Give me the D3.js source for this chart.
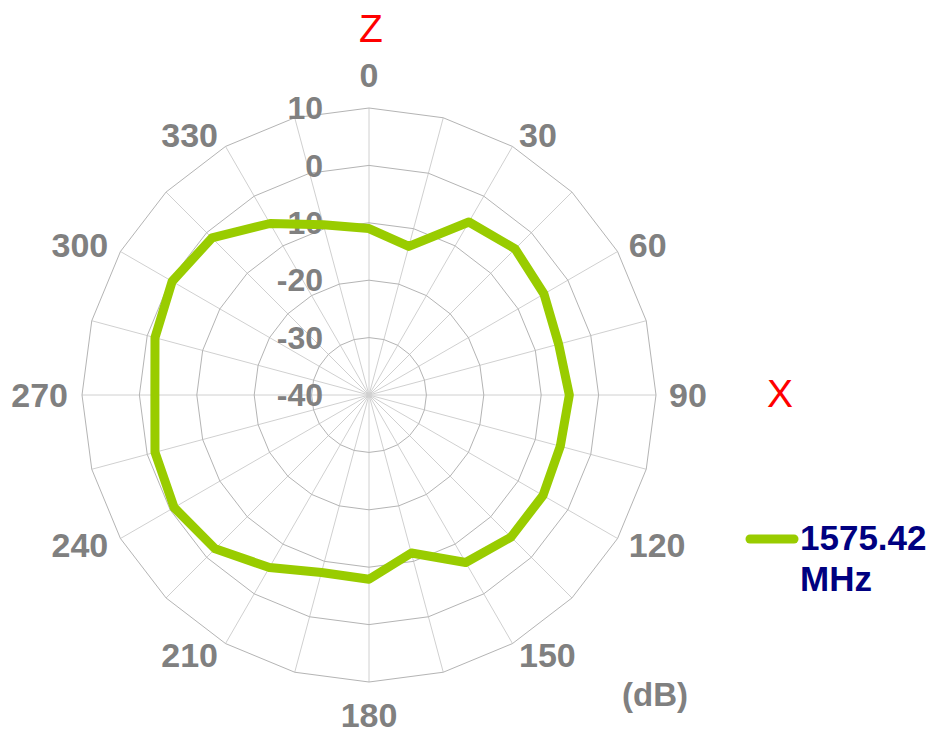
<!DOCTYPE html>
<html>
<head>
<meta charset="utf-8">
<script src="https://cdn.jsdelivr.net/npm/d3@7"></script>
<style>
  body { margin: 0; background: #fff; }
  svg { display: block; }
  text { font-family: "Liberation Sans", Arial, sans-serif; }
</style>
</head>
<body>
<svg id="chart"></svg>
<script>
// angle categories (deg) and measured gain (dB)
const angles = [0, 15, 30, 45, 60, 75, 90, 105, 120, 135, 150, 165,
                180, 195, 210, 225, 240, 255, 270, 285, 300, 315, 330, 345];
const gain = [-11.0, -13.2, -5.2, -4.0, -4.8, -5.8, -5.1, -5.5, -5.0, -5.0, -6.3, -11.5,
              -7.9, -8.0, -5.3, -2.1, -0.8, -1.4, -2.7, -1.4, -0.4, -1.3, -5.5, -9.3];
const ringTicks = [-40, -30, -20, -10, 0, 10];
const angleLabels = [0, 30, 60, 90, 120, 150, 180, 210, 240, 270, 300, 330];
const seriesName = ['1575.42', 'MHz'];

const width = 933, height = 734;
const cx = 369, cy = 395;
const svg = d3.select('#chart').attr('width', width).attr('height', height);

const r = d3.scaleLinear().domain([-40, 10]).range([0, 287]);
const rad = d => d * Math.PI / 180;

const g = svg.append('g').attr('transform', `translate(${cx},${cy})`);

// spokes
g.selectAll('line.spoke')
  .data(angles)
  .join('line')
  .attr('class', 'spoke')
  .attr('x1', 0).attr('y1', 0)
  .attr('x2', d => r(10) * Math.sin(rad(d)))
  .attr('y2', d => -r(10) * Math.cos(rad(d)))
  .attr('stroke', '#d0d0d0')
  .attr('stroke-width', 1);

// rings (polygons)
const ringLine = d3.lineRadial()
  .angle(d => rad(d))
  .curve(d3.curveLinearClosed);

g.selectAll('path.ring')
  .data(ringTicks.slice(1))
  .join('path')
  .attr('class', 'ring')
  .attr('d', t => ringLine.radius(() => r(t))(angles))
  .attr('fill', 'none')
  .attr('stroke', '#b4b4b4')
  .attr('stroke-width', 1);

// ring labels
g.selectAll('text.rlab')
  .data(ringTicks)
  .join('text')
  .attr('class', 'rlab')
  .attr('x', -46)
  .attr('y', d => -r(d))
  .attr('dy', '0.35em')
  .attr('text-anchor', 'end')
  .attr('font-size', 32)
  .attr('font-weight', 'bold')
  .attr('fill', '#808080')
  .text(d => d);

// data line
const dataLine = d3.lineRadial()
  .angle((d, i) => rad(angles[i]))
  .radius(d => r(d))
  .curve(d3.curveLinearClosed);

g.append('path')
  .datum(gain)
  .attr('d', dataLine)
  .attr('fill', 'none')
  .attr('stroke', '#99cc00')
  .attr('stroke-width', 9)
  .attr('stroke-linejoin', 'round');

// angle labels
const r0 = 300;
g.selectAll('text.alab')
  .data(angleLabels)
  .join('text')
  .attr('class', 'alab')
  .each(function(d) {
    const s = Math.sin(rad(d)), c = Math.cos(rad(d));
    let x = r0 * s, y = -r0 * c;
    let anchor = 'middle';
    if (Math.abs(s) > 0.01) {
      anchor = s > 0 ? 'start' : 'end';
      x += s > 0 ? 0 : -1;
    } else {
      y += c > 0 ? -20 : 20;
    }
    d3.select(this).attr('x', x).attr('y', y).attr('dy', '0.35em').attr('text-anchor', anchor);
  })
  .attr('font-size', 34)
  .attr('font-weight', 'bold')
  .attr('fill', '#808080')
  .text(d => d);

// axis names
svg.append('text')
  .attr('x', 371).attr('y', 28).attr('dy', '0.35em')
  .attr('text-anchor', 'middle')
  .attr('font-size', 39)
  .attr('fill', '#ff0000')
  .text('Z');

svg.append('text')
  .attr('x', 780).attr('y', 393).attr('dy', '0.35em')
  .attr('text-anchor', 'middle')
  .attr('font-size', 39)
  .attr('fill', '#ff0000')
  .text('X');

svg.append('text')
  .attr('x', 655).attr('y', 694).attr('dy', '0.35em')
  .attr('text-anchor', 'middle')
  .attr('font-size', 33)
  .attr('font-weight', 'bold')
  .attr('fill', '#808080')
  .text('(dB)');

// legend
const leg = svg.append('g').attr('transform', 'translate(750,539)');
leg.append('line')
  .attr('x1', 0).attr('x2', 44)
  .attr('y1', 0).attr('y2', 0)
  .attr('stroke', '#99cc00')
  .attr('stroke-width', 9)
  .attr('stroke-linecap', 'round');
leg.selectAll('text')
  .data(seriesName)
  .join('text')
  .attr('x', 50)
  .attr('y', (d, i) => i === 0 ? 11 : 52)
  .attr('font-size', 35)
  .attr('font-weight', 'bold')
  .attr('fill', '#000080')
  .text(d => d);
</script>
</body>
</html>
